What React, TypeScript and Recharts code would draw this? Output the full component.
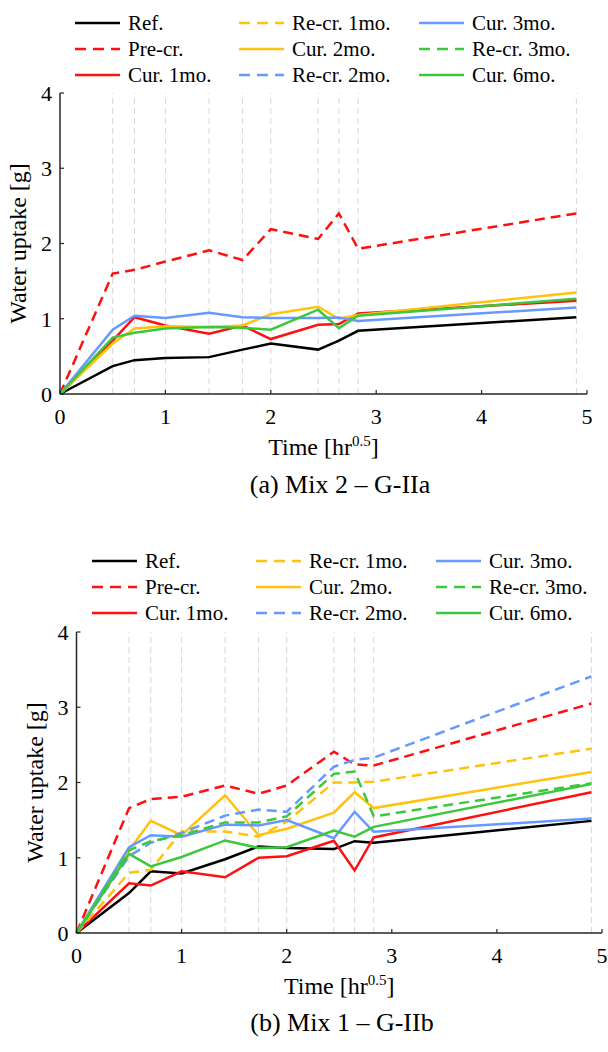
import React from "react";
import { LineChart, Line, XAxis, YAxis, ReferenceLine, Label } from "recharts";

// sqrt(hours): 0, 0.25, 0.5, 1, 2, 3, 4, 6, 7, 8, 24 h
const TIME = [0, 0.5, 0.707, 1, 1.414, 1.732, 2, 2.449, 2.646, 2.828, 4.899];
const X_TICKS = [0, 1, 2, 3, 4, 5];
const Y_TICKS = [0, 1, 2, 3, 4];

// (a) Mix 2 – G-IIa
const A_REF = [0, 0.37, 0.45, 0.48, 0.49, 0.59, 0.67, 0.59, 0.71, 0.84, 1.02];
const A_PRE = [0, 1.6, 1.65, 1.76, 1.91, 1.78, 2.19, 2.06, 2.4, 1.93, 2.4];
const A_CUR1 = [0, 0.71, 1.02, 0.91, 0.8, 0.91, 0.73, 0.92, 0.93, 1.07, 1.24];
const A_CUR2 = [0, 0.67, 0.87, 0.9, 0.89, 0.91, 1.06, 1.16, 1.0, 1.05, 1.35];
const A_CUR3 = [0, 0.855, 1.04, 1.01, 1.08, 1.02, 1.01, 1.01, 1.015, 0.97, 1.15];
const A_CUR6 = [0, 0.75, 0.815, 0.87, 0.89, 0.88, 0.855, 1.12, 0.875, 1.04, 1.265];

// (b) Mix 1 – G-IIb
const B_REF = [0, 0.53, 0.82, 0.79, 0.98, 1.15, 1.13, 1.115, 1.22, 1.2, 1.49];
const B_PRE = [0, 1.66, 1.78, 1.81, 1.96, 1.85, 1.96, 2.41, 2.24, 2.225, 3.05];
const B_CUR1 = [0, 0.66, 0.63, 0.82, 0.74, 1.0, 1.02, 1.225, 0.83, 1.27, 1.87];
const B_RE1 = [0, 0.8, 0.84, 1.35, 1.35, 1.28, 1.48, 2.0, 2.0, 2.01, 2.45];
const B_CUR2 = [0, 1.1, 1.49, 1.3, 1.83, 1.3, 1.385, 1.6, 1.87, 1.66, 2.14];
const B_RE2 = [0, 1.02, 1.2, 1.33, 1.56, 1.64, 1.61, 2.21, 2.3, 2.33, 3.41];
const B_CUR3 = [0, 1.14, 1.3, 1.28, 1.44, 1.43, 1.5, 1.26, 1.61, 1.345, 1.52];
const B_RE3 = [0, 1.1, 1.22, 1.3, 1.47, 1.47, 1.55, 2.115, 2.145, 1.55, 1.99];
const B_CUR6 = [0, 1.05, 0.885, 1.01, 1.23, 1.13, 1.14, 1.36, 1.28, 1.41, 1.98];

const RED = "#ff1010";
const YELLOW = "#ffc20e";
const BLUE = "#6699ff";
const GREEN = "#3cc83c";

const SERIES = [
  { key: "ref", name: "Ref.", color: "#000000", dashed: false },
  { key: "pre", name: "Pre-cr.", color: RED, dashed: true },
  { key: "cur1", name: "Cur. 1mo.", color: RED, dashed: false },
  { key: "re1", name: "Re-cr. 1mo.", color: YELLOW, dashed: true },
  { key: "cur2", name: "Cur. 2mo.", color: YELLOW, dashed: false },
  { key: "re2", name: "Re-cr. 2mo.", color: BLUE, dashed: true },
  { key: "cur3", name: "Cur. 3mo.", color: BLUE, dashed: false },
  { key: "re3", name: "Re-cr. 3mo.", color: GREEN, dashed: true },
  { key: "cur6", name: "Cur. 6mo.", color: GREEN, dashed: false },
];

const FONT = '"Liberation Serif", "Times New Roman", serif';
const AXIS = "#262626";
const DASH = "10 6";

const dataA = TIME.map((t, i) => ({
  t,
  ref: A_REF[i],
  pre: A_PRE[i],
  cur1: A_CUR1[i],
  cur2: A_CUR2[i],
  cur3: A_CUR3[i],
  cur6: A_CUR6[i],
}));

const dataB = TIME.map((t, i) => ({
  t,
  ref: B_REF[i],
  pre: B_PRE[i],
  cur1: B_CUR1[i],
  re1: B_RE1[i],
  cur2: B_CUR2[i],
  re2: B_RE2[i],
  cur3: B_CUR3[i],
  re3: B_RE3[i],
  cur6: B_CUR6[i],
}));

function LegendBlock({ left, top }: { left: number; top: number }) {
  const colX = [0, 164, 344];
  const rowY = [0, 26, 52];
  return (
    <svg
      width={608}
      height={80}
      style={{ position: "absolute", left: 0, top: top - 12, overflow: "visible" }}
    >
      {SERIES.map((s, i) => {
        const x = left + colX[Math.floor(i / 3)];
        const y = 12 + rowY[i % 3];
        return (
          <g key={s.key}>
            <line
              x1={x}
              x2={x + 45}
              y1={y}
              y2={y}
              stroke={s.color}
              strokeWidth={2.5}
              strokeDasharray={s.dashed ? "11 7" : undefined}
            />
            <text x={x + 53} y={y + 7} fontFamily={FONT} fontSize={21} fill="#000">
              {s.name}
            </text>
          </g>
        );
      })}
    </svg>
  );
}

const XLabel = (props: any) => {
  const { viewBox } = props;
  const cx = viewBox.x + viewBox.width / 2;
  const y = viewBox.y + 61;
  return (
    <text x={cx} y={y} textAnchor="middle" fontFamily={FONT} fontSize={24} fill="#000">
      Time [hr
      <tspan fontSize={15} dy={-9}>0.5</tspan>
      <tspan dy={9}>]</tspan>
    </text>
  );
};

const YLabel = (props: any) => {
  const { viewBox } = props;
  const cy = viewBox.y + viewBox.height / 2;
  const x = viewBox.x + viewBox.width - 34;
  return (
    <text
      x={x}
      y={cy}
      transform={`rotate(-90, ${x}, ${cy})`}
      textAnchor="middle"
      fontFamily={FONT}
      fontSize={24}
      fill="#000"
    >
      Water uptake [g]
    </text>
  );
};

function Panel({
  data,
  keys,
  top,
  height,
  margin,
  title,
  titleX,
  titleY,
  legendLeft,
  legendTop,
}: any) {
  return (
    <>
      <LegendBlock left={legendLeft} top={legendTop} />
      <div style={{ position: "absolute", left: 0, top }}>
        <LineChart width={608} height={height} data={data} margin={margin}>
          {TIME.slice(1).map((v) => (
            <ReferenceLine key={v} x={v} stroke="#d6d6d6" strokeDasharray="6 4" strokeWidth={1} />
          ))}
          <XAxis
            dataKey="t"
            type="number"
            domain={[0, 5]}
            ticks={X_TICKS}
            interval={0}
            tickSize={-4}
            tickMargin={18}
            height={30}
            axisLine={{ stroke: AXIS, strokeWidth: 1.5 }}
            tickLine={{ stroke: AXIS, strokeWidth: 1.2 }}
            tick={{ fill: "#000", fontSize: 22, fontFamily: FONT }}
          >
            <Label content={<XLabel />} />
          </XAxis>
          <YAxis
            type="number"
            domain={[0, 4]}
            ticks={Y_TICKS}
            interval={0}
            width={50}
            tickSize={-4}
            tickMargin={12}
            axisLine={{ stroke: AXIS, strokeWidth: 1.5 }}
            tickLine={{ stroke: AXIS, strokeWidth: 1.2 }}
            tick={{ fill: "#000", fontSize: 22, fontFamily: FONT }}
          >
            <Label content={<YLabel />} />
          </YAxis>
          {SERIES.filter((s) => keys.includes(s.key)).map((s) => (
            <Line
              key={s.key}
              type="linear"
              dataKey={s.key}
              name={s.name}
              stroke={s.color}
              strokeWidth={2.5}
              strokeDasharray={s.dashed ? DASH : undefined}
              dot={false}
              activeDot={false}
              isAnimationActive={false}
            />
          ))}
        </LineChart>
      </div>
      <div
        style={{
          position: "absolute",
          left: titleX - 200,
          width: 400,
          top: titleY - 24,
          textAlign: "center",
          fontFamily: FONT,
          fontSize: 26,
          lineHeight: "30px",
          color: "#000",
        }}
      >
        {title}
      </div>
    </>
  );
}

export default function App() {
  return (
    <div
      style={{
        position: "absolute",
        left: 0,
        top: 0,
        width: 608,
        height: 1052,
        background: "#fff",
        overflow: "hidden",
      }}
    >
      <Panel
        data={dataA}
        keys={["ref", "pre", "cur1", "cur2", "cur3", "cur6"]}
        top={0}
        height={470}
        margin={{ top: 93, right: 21, left: 10, bottom: 46 }}
        title="(a) Mix 2 – G-IIa"
        titleX={340}
        titleY={494}
        legendLeft={75}
        legendTop={22.5}
      />
      <Panel
        data={dataB}
        keys={SERIES.map((s) => s.key)}
        top={520}
        height={500}
        margin={{ top: 112, right: 6, left: 26.5, bottom: 57 }}
        title="(b) Mix 1 – G-IIb"
        titleX={342}
        titleY={1032}
        legendLeft={92}
        legendTop={561}
      />
    </div>
  );
}
